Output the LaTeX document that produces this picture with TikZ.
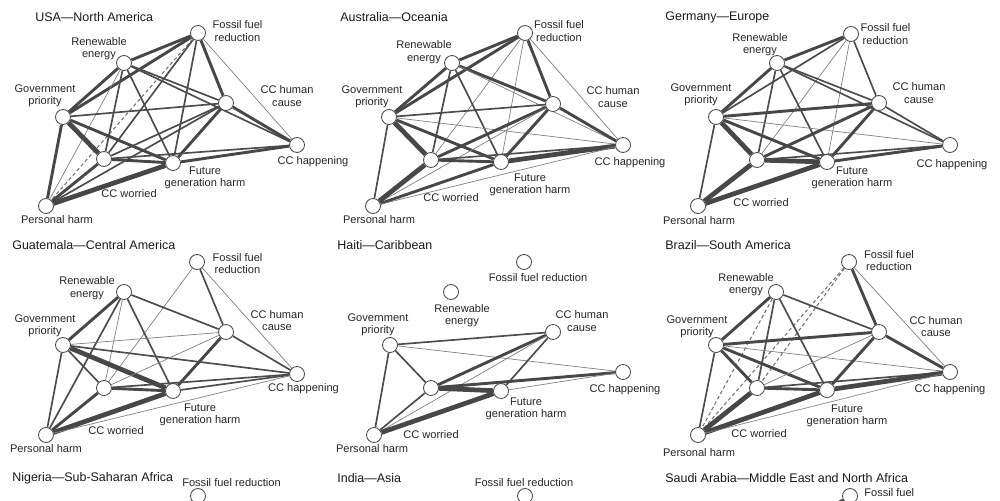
\documentclass[tikz,border=0pt]{standalone}
\usepackage{fontspec}
\setmainfont{Liberation Sans}
\usetikzlibrary{backgrounds}

\begin{document}
\begin{tikzpicture}[x = 0.02cm, y = -0.02cm,
        vtx/.style = {circle, draw = black!70, fill = white, line width = 0.5pt, minimum size = 0.3cm, inner sep = 0pt},
        lbl/.style = {font = \fontsize{6.3}{7}\selectfont, align = center, text = black!85, inner sep = 0pt},
        ttl/.style = {font = \fontsize{7.1}{8.5}\selectfont, anchor = west, text = black!90, inner sep = 0pt},
        e1/.style = {draw = black!50, line width = 0.4pt},
        e2/.style = {draw = black!70, line width = 0.95pt},
        e3/.style = {draw = black!72, line width = 1.65pt},
        e4/.style = {draw = black!72, line width = 2.7pt},
        eneg/.style = {draw = black!55, line width = 0.6pt, dash pattern = on 2pt off 1.5pt}]
        \clip (0,0) rectangle (1000,500);

        \node[ttl] (usA) at (35,17) {USA—North America};
        \node[vtx] (usF) at (198,33) {};
        \node[vtx] (usR) at (124,63) {};
        \node[vtx] (usG) at (63,117) {};
        \node[vtx] (usH) at (226,103) {};
        \node[vtx] (usP) at (297,145) {};
        \node[vtx] (usW) at (104,159) {};
        \node[vtx] (usT) at (173,163) {};
        \node[vtx] (usX) at (46,206) {};
        \node[lbl] (usFl) at (237.5,31) {Fossil fuel\\reduction};
        \node[lbl] (usRl) at (99,48.5) {Renewable\\energy};
        \node[lbl] (usGl) at (45,96) {Government\\priority};
        \node[lbl] (usHl) at (287,96) {CC human\\cause};
        \node[lbl] (usPl) at (313,162) {CC happening};
        \node[lbl] (usTl) at (205,177.5) {Future\\generation harm};
        \node[lbl] (usWl) at (129,194) {CC worried};
        \node[lbl] (usXl) at (57,220) {Personal harm};

        \node[ttl] (auA) at (340,17) {Australia—Oceania};
        \node[vtx] (auF) at (525,33) {};
        \node[vtx] (auR) at (452,63) {};
        \node[vtx] (auG) at (389,117) {};
        \node[vtx] (auH) at (553,104) {};
        \node[vtx] (auP) at (623,145) {};
        \node[vtx] (auW) at (431,160) {};
        \node[vtx] (auT) at (501,162) {};
        \node[vtx] (auX) at (373,206) {};
        \node[lbl] (auFl) at (559,31) {Fossil fuel\\reduction};
        \node[lbl] (auRl) at (424,52) {Renewable\\energy};
        \node[lbl] (auGl) at (372,97) {Government\\priority};
        \node[lbl] (auHl) at (613,97) {CC human\\cause};
        \node[lbl] (auPl) at (630,163) {CC happening};
        \node[lbl] (auTl) at (530,184.5) {Future\\generation harm};
        \node[lbl] (auWl) at (451,198) {CC worried};
        \node[lbl] (auXl) at (379,220) {Personal harm};

        \node[ttl] (deA) at (665,17) {Germany—Europe};
        \node[vtx] (deF) at (851,34) {};
        \node[vtx] (deR) at (777,63) {};
        \node[vtx] (deG) at (716,117) {};
        \node[vtx] (deH) at (879,103) {};
        \node[vtx] (deP) at (950,145) {};
        \node[vtx] (deW) at (757,160) {};
        \node[vtx] (deT) at (827,162) {};
        \node[vtx] (deX) at (698,206) {};
        \node[lbl] (deFl) at (885.5,34) {Fossil fuel\\reduction};
        \node[lbl] (deRl) at (760,44.5) {Renewable\\energy};
        \node[lbl] (deGl) at (701,94.5) {Government\\priority};
        \node[lbl] (deHl) at (919,93) {CC human\\cause};
        \node[lbl] (dePl) at (952,165) {CC happening};
        \node[lbl] (deTl) at (852,177.5) {Future\\generation harm};
        \node[lbl] (deWl) at (761,203) {CC worried};
        \node[lbl] (deXl) at (699,221) {Personal harm};

        \node[ttl] (gtA) at (12,245) {Guatemala—Central America};
        \node[vtx] (gtF) at (197,262) {};
        \node[vtx] (gtR) at (124,292) {};
        \node[vtx] (gtG) at (63,345) {};
        \node[vtx] (gtH) at (226,332) {};
        \node[vtx] (gtP) at (297,374) {};
        \node[vtx] (gtW) at (104,388) {};
        \node[vtx] (gtT) at (173,391) {};
        \node[vtx] (gtX) at (46,435) {};
        \node[lbl] (gtFl) at (237.5,263.5) {Fossil fuel\\reduction};
        \node[lbl] (gtRl) at (87,288) {Renewable\\energy};
        \node[lbl] (gtGl) at (45,326) {Government\\priority};
        \node[lbl] (gtHl) at (277,320.5) {CC human\\cause};
        \node[lbl] (gtPl) at (303.5,389) {CC happening};
        \node[lbl] (gtTl) at (200,414.5) {Future\\generation harm};
        \node[lbl] (gtWl) at (116,431) {CC worried};
        \node[lbl] (gtXl) at (46,449) {Personal harm};

        \node[ttl] (htA) at (337,245) {Haiti—Caribbean};
        \node[vtx] (htF) at (524,262) {};
        \node[vtx] (htR) at (451,292) {};
        \node[vtx] (htG) at (390,345) {};
        \node[vtx] (htH) at (553,332) {};
        \node[vtx] (htP) at (623,372) {};
        \node[vtx] (htW) at (431,388) {};
        \node[vtx] (htT) at (501,391) {};
        \node[vtx] (htX) at (374,435) {};
        \node[lbl] (htFl) at (538,278) {Fossil fuel reduction};
        \node[lbl] (htRl) at (462,315.5) {Renewable\\energy};
        \node[lbl] (htGl) at (378,325) {Government\\priority};
        \node[lbl] (htHl) at (582,321) {CC human\\cause};
        \node[lbl] (htPl) at (625,390) {CC happening};
        \node[lbl] (htTl) at (526,408.5) {Future\\generation harm};
        \node[lbl] (htWl) at (431,435) {CC worried};
        \node[lbl] (htXl) at (372,449) {Personal harm};

        \node[ttl] (brA) at (665,245) {Brazil—South America};
        \node[vtx] (brF) at (849,262) {};
        \node[vtx] (brR) at (776,292) {};
        \node[vtx] (brG) at (716,345) {};
        \node[vtx] (brH) at (879,332) {};
        \node[vtx] (brP) at (950,372) {};
        \node[vtx] (brW) at (757,388) {};
        \node[vtx] (brT) at (827,390) {};
        \node[vtx] (brX) at (698,435) {};
        \node[lbl] (brFl) at (889,260.5) {Fossil fuel\\reduction};
        \node[lbl] (brRl) at (746,284.5) {Renewable\\energy};
        \node[lbl] (brGl) at (697,327) {Government\\priority};
        \node[lbl] (brHl) at (936,326.5) {CC human\\cause};
        \node[lbl] (brPl) at (950,390) {CC happening};
        \node[lbl] (brTl) at (847,416) {Future\\generation harm};
        \node[lbl] (brWl) at (759,434) {CC worried};
        \node[lbl] (brXl) at (699,453) {Personal harm};

        \node[ttl] (ngA) at (12,478) {Nigeria—Sub-Saharan Africa};
        \node[vtx] (ngF) at (198,496) {};
        \node[lbl] (ngFl) at (231.5,483) {Fossil fuel reduction};
        \coordinate (ngS) at (150,540);

        \node[ttl] (inA) at (337,478) {India—Asia};
        \node[vtx] (inF) at (525,496) {};
        \node[lbl] (inFl) at (524,483) {Fossil fuel reduction};
        \coordinate (inS) at (480,540);

        \node[ttl] (saA) at (665,478) {Saudi Arabia—Middle East and North Africa};
        \node[vtx] (saF) at (850,496) {};
        \node[lbl, anchor = west] (saFl) at (864,493) {Fossil fuel};
        \coordinate (saS) at (790,530);

        \begin{scope}[on background layer]
        \draw[e3] (usF) -- (usR);
        \draw[e3] (usF) -- (usG);
        \draw[e3] (usF) -- (usH);
        \draw[e1] (usF) -- (usP);
        \draw[e2] (usF) -- (usT);
        \draw[e2] (usF) -- (usW);
        \draw[eneg] (usF) -- (usX);
        \draw[e3] (usR) -- (usG);
        \draw[e2] (usR) -- (usH);
        \draw[e2] (usR) -- (usP);
        \draw[e2] (usR) -- (usW);
        \draw[e2] (usR) -- (usT);
        \draw[e1] (usR) -- (usX);
        \draw[e2] (usG) -- (usH);
        \draw[e4] (usG) -- (usW);
        \draw[e3] (usG) -- (usT);
        \draw[e3] (usG) -- (usX);
        \draw[e2] (usH) -- (usW);
        \draw[e3] (usH) -- (usT);
        \draw[e3] (usH) -- (usP);
        \draw[e2] (usH) -- (usX);
        \draw[e3] (usW) -- (usT);
        \draw[e2] (usW) -- (usP);
        \draw[e3] (usW) -- (usX);
        \draw[e3] (usT) -- (usP);
        \draw[e4] (usT) -- (usX);

        \draw[e3] (auF) -- (auR);
        \draw[e3] (auF) -- (auG);
        \draw[e3] (auF) -- (auH);
        \draw[e1] (auF) -- (auP);
        \draw[e1] (auF) -- (auW);
        \draw[e1] (auF) -- (auT);
        \draw[e3] (auR) -- (auG);
        \draw[e3] (auR) -- (auH);
        \draw[e1] (auR) -- (auP);
        \draw[e2] (auR) -- (auW);
        \draw[e2] (auR) -- (auT);
        \draw[e2] (auG) -- (auH);
        \draw[e1] (auG) -- (auP);
        \draw[e4] (auG) -- (auW);
        \draw[e3] (auG) -- (auT);
        \draw[e2] (auG) -- (auX);
        \draw[e3] (auH) -- (auW);
        \draw[e3] (auH) -- (auT);
        \draw[e3] (auH) -- (auP);
        \draw[e1] (auH) -- (auX);
        \draw[e3] (auW) -- (auT);
        \draw[e2] (auW) -- (auP);
        \draw[e4] (auW) -- (auX);
        \draw[e4] (auT) -- (auP);
        \draw[e3] (auT) -- (auX);
        \draw[e1] (auX) -- (auP);

        \draw[e3] (deF) -- (deR);
        \draw[e2] (deF) -- (deG);
        \draw[e2] (deF) -- (deH);
        \draw[e1] (deF) -- (deW);
        \draw[e1] (deF) -- (deT);
        \draw[e3] (deR) -- (deG);
        \draw[e2] (deR) -- (deH);
        \draw[e2] (deR) -- (deP);
        \draw[e2] (deR) -- (deW);
        \draw[e2] (deR) -- (deT);
        \draw[e3] (deG) -- (deH);
        \draw[e1] (deG) -- (deP);
        \draw[e4] (deG) -- (deW);
        \draw[e3] (deG) -- (deT);
        \draw[e2] (deG) -- (deX);
        \draw[e3] (deH) -- (deW);
        \draw[e3] (deH) -- (deT);
        \draw[e2] (deH) -- (deP);
        \draw[e4] (deW) -- (deT);
        \draw[e2] (deW) -- (deP);
        \draw[e4] (deW) -- (deX);
        \draw[e3] (deT) -- (deP);
        \draw[e4] (deT) -- (deX);

        \draw[e2] (gtF) -- (gtH);
        \draw[e1] (gtF) -- (gtP);
        \draw[e1] (gtF) -- (gtW);
        \draw[e3] (gtR) -- (gtG);
        \draw[e2] (gtR) -- (gtH);
        \draw[e2] (gtR) -- (gtT);
        \draw[e2] (gtR) -- (gtX);
        \draw[e1] (gtR) -- (gtW);
        \draw[e1] (gtG) -- (gtH);
        \draw[e2] (gtG) -- (gtP);
        \draw[e2] (gtG) -- (gtW);
        \draw[e4] (gtG) -- (gtT);
        \draw[e2] (gtG) -- (gtX);
        \draw[e1] (gtH) -- (gtW);
        \draw[e3] (gtH) -- (gtT);
        \draw[e2] (gtH) -- (gtP);
        \draw[e3] (gtW) -- (gtT);
        \draw[e2] (gtW) -- (gtP);
        \draw[e3] (gtW) -- (gtX);
        \draw[e2] (gtT) -- (gtP);
        \draw[e4] (gtT) -- (gtX);
        \draw[e1] (gtX) -- (gtP);

        \draw[e2] (htG) -- (htH);
        \draw[e1] (htG) -- (htP);
        \draw[e2] (htG) -- (htW);
        \draw[e2] (htG) -- (htX);
        \draw[e3] (htH) -- (htW);
        \draw[e2] (htH) -- (htT);
        \draw[e1] (htH) -- (htX);
        \draw[e4] (htW) -- (htT);
        \draw[e3] (htW) -- (htP);
        \draw[e2] (htW) -- (htX);
        \draw[e1] (htT) -- (htP);
        \draw[e4] (htT) -- (htX);

        \draw[e3] (brF) -- (brH);
        \draw[e1] (brF) -- (brP);
        \draw[eneg] (brF) -- (brW);
        \draw[eneg] (brF) -- (brX);
        \draw[e3] (brR) -- (brG);
        \draw[eneg] (brR) -- (brX);
        \draw[e2] (brR) -- (brW);
        \draw[e2] (brR) -- (brT);
        \draw[e2] (brR) -- (brH);
        \draw[e3] (brG) -- (brH);
        \draw[e1] (brG) -- (brP);
        \draw[e3] (brG) -- (brW);
        \draw[e3] (brG) -- (brT);
        \draw[e2] (brG) -- (brX);
        \draw[e1] (brH) -- (brW);
        \draw[e3] (brH) -- (brT);
        \draw[e3] (brH) -- (brP);
        \draw[e3] (brW) -- (brT);
        \draw[e2] (brW) -- (brP);
        \draw[e4] (brW) -- (brX);
        \draw[e4] (brT) -- (brP);
        \draw[e4] (brT) -- (brX);
        \draw[e1] (brX) -- (brP);

        \draw[e3] (ngF) -- (ngS);
        \draw[e2] (inF) -- (inS);
        \draw[e3] (saF) -- (saS);
        \end{scope}
    \end{tikzpicture}
\end{document}
